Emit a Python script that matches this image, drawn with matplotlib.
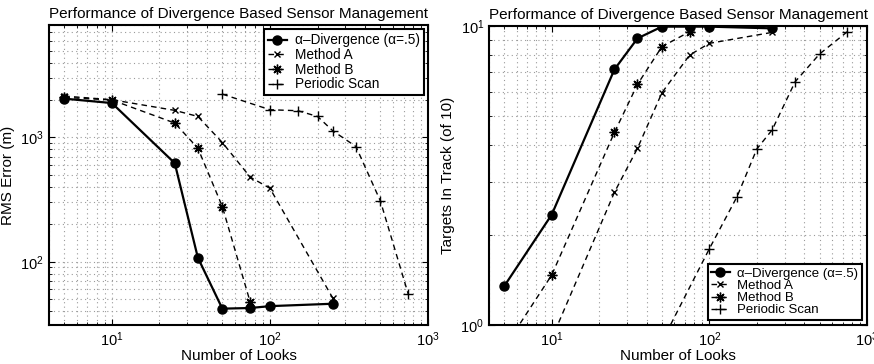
import numpy as np
import matplotlib
matplotlib.use("Agg")
import matplotlib.pyplot as plt
from matplotlib.ticker import NullFormatter

plt.rcParams['font.family'] = ['Liberation Sans', 'DejaVu Sans']
plt.rcParams['mathtext.fontset'] = 'custom'
plt.rcParams['mathtext.rm'] = 'Liberation Sans'

# numero de looks
looks = [5, 10, 25, 35, 50, 75, 100, 250]
looksB = [5, 10, 25, 35, 50, 75]
looksScan = [50, 100, 150, 200, 250, 350, 500, 750]

# error RMS (m)
rmsAlpha = [2050, 1890, 621, 108, 42, 42.5, 44, 46]
rmsA = [2150, 2010, 1650, 1475, 910, 480, 390, 51]
rmsB = [2100, 2000, 1305, 820, 278, 47.5]
rmsScan = [2230, 1670, 1640, 1475, 1130, 845, 308, 55]

# blancos en track (de 10)
trkAlpha = [1.35, 2.34, 7.16, 9.09, 9.95, 9.95, 9.95, 9.82]
trkA = [0.5, 0.9, 2.78, 3.90, 5.98, 8.0, 8.75, 9.52]
trkB = [0.84, 1.47, 4.41, 6.38, 8.53, 9.57]
trkScan = [0.88, 1.80, 2.69, 3.88, 4.49, 6.51, 8.06, 9.57]

nombres = ['\u03b1\u2013Divergence (\u03b1=.5)', 'Method A', 'Method B', 'Periodic Scan']
titulo = 'Performance of Divergence Based Sensor Management'

dash = (0, (4, 3))
asterisco = (8, 2, 0)

fig = plt.figure(figsize=(8.74, 3.64), dpi=100)
ax1 = fig.add_axes([0.056, 0.107, 0.4337, 0.824])
ax2 = fig.add_axes([0.5595, 0.107, 0.4325, 0.8216])


def dibujar(ax, yA, yMA, yMB, yS):
    ax.plot(looks, yA, color='k', lw=1.6, marker='o', ms=6.5, label=nombres[0])
    ax.plot(looks, yMA, color='k', lw=1, ls=dash, marker='x', ms=5, mew=1, label=nombres[1])
    ax.plot(looksB, yMB, color='k', lw=1, ls=dash, marker=asterisco, ms=7, mew=1, label=nombres[2])
    ax.plot(looksScan, yS, color='k', lw=1, ls=dash, marker='+', ms=7, mew=1, label=nombres[3])
    ax.set_xscale('log')
    ax.set_yscale('log')
    ax.set_xlim(4, 1000)
    ax.xaxis.set_minor_formatter(NullFormatter())
    ax.yaxis.set_minor_formatter(NullFormatter())
    ax.grid(True, which='both', color='#9a9a9a', ls=(0, (1, 3)), lw=0.8)
    ax.tick_params(which='both', direction='in', top=True, right=True, labelsize=10.5)
    ax.tick_params(which='major', length=4)
    ax.tick_params(which='minor', length=2)
    for s in ax.spines.values():
        s.set_linewidth(1.5)
    ax.set_xlabel('Number of Looks', fontsize=11, labelpad=0)
    ax.set_title(titulo, fontsize=11, pad=5)


dibujar(ax1, rmsAlpha, rmsA, rmsB, rmsScan)
ax1.set_ylim(31, 8000)
ax1.set_ylabel('RMS Error (m)', fontsize=11)
leg1 = ax1.legend(loc='upper right', fontsize=9.8, fancybox=False, framealpha=1,
                  edgecolor='k', handlelength=1.4, borderpad=0.3, labelspacing=0.05,
                  handletextpad=0.6, borderaxespad=0.3)
leg1.get_frame().set_linewidth(1.5)

dibujar(ax2, trkAlpha, trkA, trkB, trkScan)
ax2.set_ylim(1, 10)
ax2.set_ylabel('Targets In Track (of 10)', fontsize=11)
leg2 = ax2.legend(loc='lower right', fontsize=9.5, fancybox=False, framealpha=1,
                  edgecolor='k', handlelength=1.4, borderpad=0.25, labelspacing=0.0,
                  handletextpad=0.6, borderaxespad=0.4)
leg2.get_frame().set_linewidth(1.5)

fig.savefig('out.png', dpi=100)
